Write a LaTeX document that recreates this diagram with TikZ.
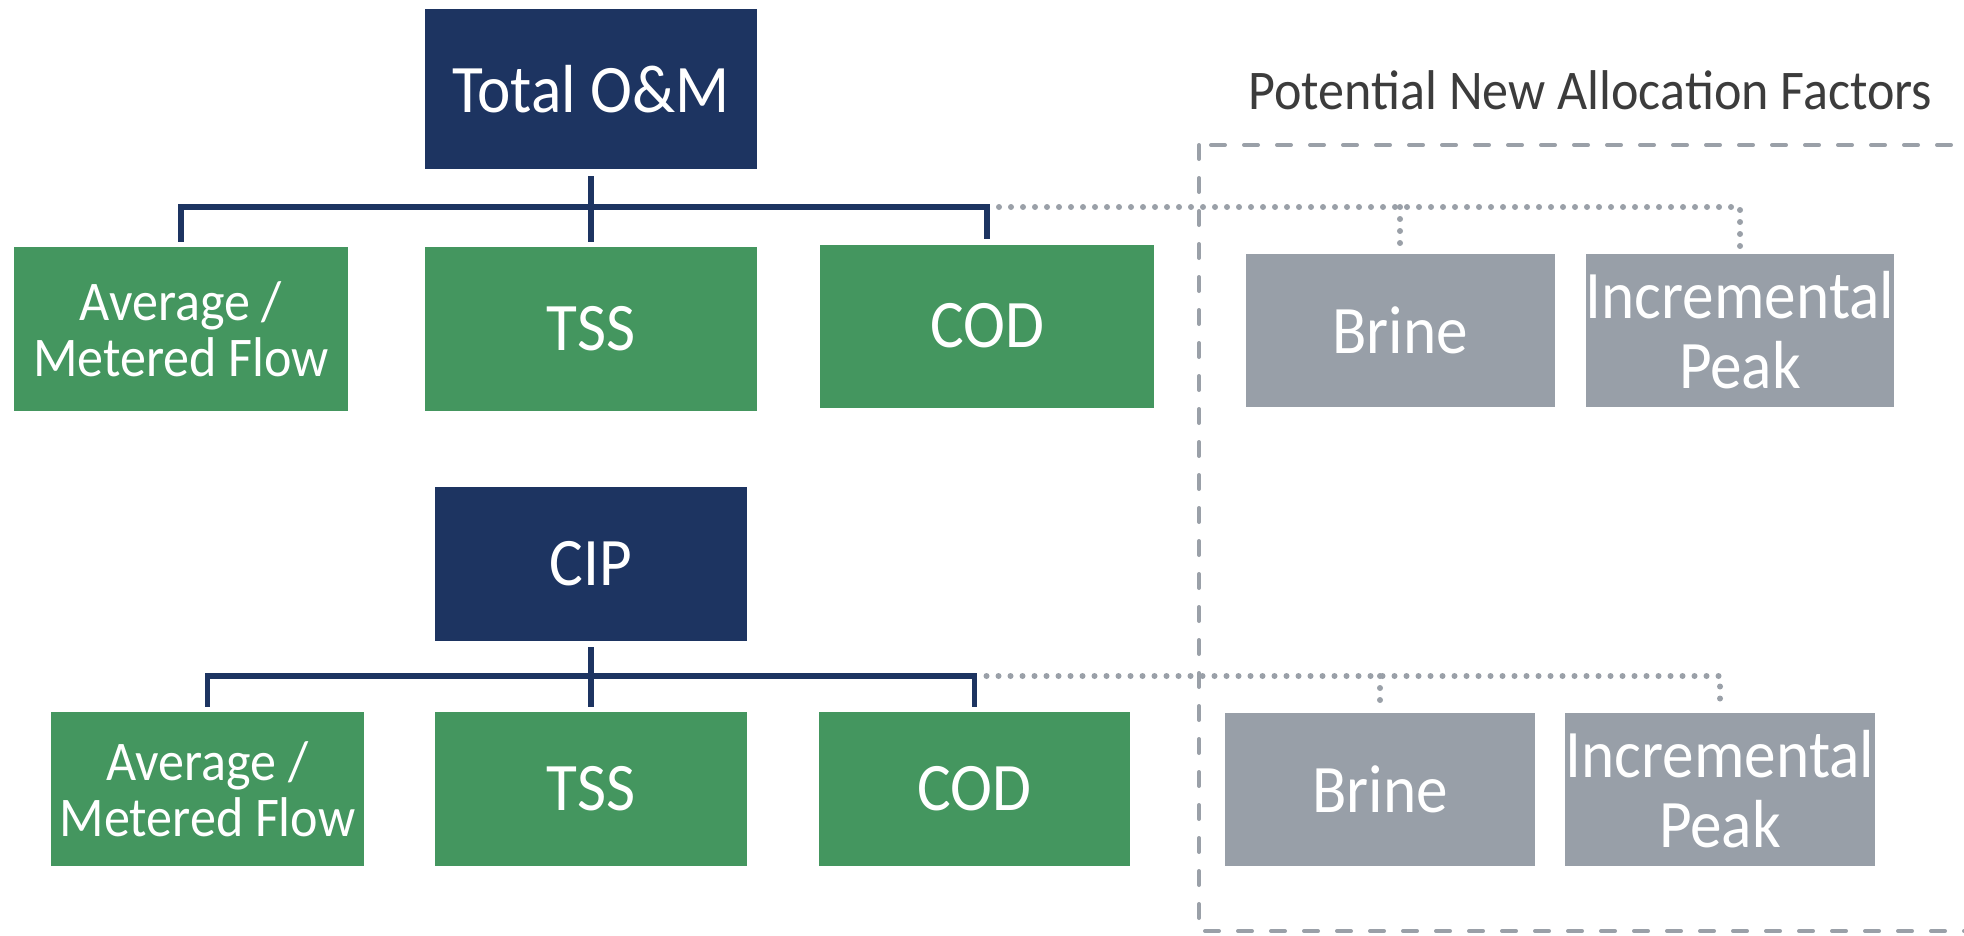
\documentclass[tikz,border=0pt]{standalone}
\usepackage{fontspec}
\setmainfont{Carlito}[FakeStretch=0.93]
\usepackage{xcolor}
\usetikzlibrary{positioning,calc}

\definecolor{navy}{HTML}{1D3461}
\definecolor{leaf}{HTML}{44965F}
\definecolor{slate}{HTML}{989FA8}
\definecolor{frame}{HTML}{9AA0A8}
\definecolor{caption}{HTML}{3C3C3C}

\begin{document}
\begin{tikzpicture}[
  x=1pt, y=-1pt,
  box/.style={rectangle, inner sep=0pt, text=white, align=center,
    font=\fontsize{68}{70}\selectfont},
  parent/.style={box, fill=navy},
  factor/.style={box, fill=leaf},
  flowbox/.style={factor, font=\fontsize{56}{56}\selectfont},
  newfactor/.style={box, fill=slate},
  conn/.style={draw=navy, line width=5.5pt},
  dotline/.style={draw=frame, line width=6pt, line cap=round,
    dash pattern=on 0pt off 12pt},
  dashframe/.style={draw=frame, line width=4pt, line cap=round,
    dash pattern=on 14pt off 19pt},
]
  \useasboundingbox (0,0) rectangle (1964,935);
  \clip (0,0) rectangle (1964,935);

  % frame round the new factors
  \node[anchor=base west, text=caption, font=\fontsize{56}{56}\selectfont]
    (newtitle) at (1245,109) {Potential New Allocation Factors};
  \draw[dashframe] (1199,145) rectangle (2010,931);

  % O&M tree
  \node[parent, minimum width=332pt, minimum height=160pt] (tom) at (591,89) {Total O\&M};
  \node[flowbox, minimum width=334pt, minimum height=164pt] (tomAvg) at (181,329) {Average /\\Metered Flow};
  \node[factor, minimum width=332pt, minimum height=164pt] (tomTSS) at (591,329) {TSS};
  \node[factor, minimum width=334pt, minimum height=163pt] (tomCOD) at (987,326) {COD};
  \node[newfactor, minimum width=309pt, minimum height=153pt] (tomBrine) at (1400,330) {Brine};
  \node[newfactor, minimum width=308pt, minimum height=153pt] (tomPeak) at (1740,330) {Incremental\\Peak};

  \coordinate (tomBus) at (591,207);
  \draw[conn] ([yshift=-7pt]tom.south) -- (tomBus);
  \draw[conn] ([yshift=5pt]tomAvg.north) |- (tomBus) -| ([yshift=5pt]tomCOD.north);
  \draw[conn] (tomBus) -- ([yshift=5pt]tomTSS.north);
  \draw[dotline] ([xshift=12pt]tomBus -| tomCOD) -- (tomBus -| tomPeak) -- ([yshift=5pt]tomPeak.north);
  \draw[dotline] (tomBus -| tomBrine) -- ([yshift=5pt]tomBrine.north);

  % CIP tree
  \node[parent, minimum width=312pt, minimum height=154pt] (cip) at (591,564) {CIP};
  \node[flowbox, minimum width=313pt, minimum height=154pt] (cipAvg) at (207.5,789) {Average /\\Metered Flow};
  \node[factor, minimum width=312pt, minimum height=154pt] (cipTSS) at (591,789) {TSS};
  \node[factor, minimum width=311pt, minimum height=154pt] (cipCOD) at (974.5,789) {COD};
  \node[newfactor, minimum width=310pt, minimum height=153pt] (cipBrine) at (1380,789.5) {Brine};
  \node[newfactor, minimum width=310pt, minimum height=153pt] (cipPeak) at (1720,789.5) {Incremental\\Peak};

  \coordinate (cipBus) at (591,676);
  \draw[conn] ([yshift=-6pt]cip.south) -- (cipBus);
  \draw[conn] ([yshift=5pt]cipAvg.north) |- (cipBus) -| ([yshift=5pt]cipCOD.north);
  \draw[conn] (cipBus) -- ([yshift=5pt]cipTSS.north);
  \draw[dotline] ([xshift=12pt]cipBus -| cipCOD) -- (cipBus -| cipPeak) -- ([yshift=5pt]cipPeak.north);
  \draw[dotline] (cipBus -| cipBrine) -- ([yshift=5pt]cipBrine.north);
\end{tikzpicture}
\end{document}
